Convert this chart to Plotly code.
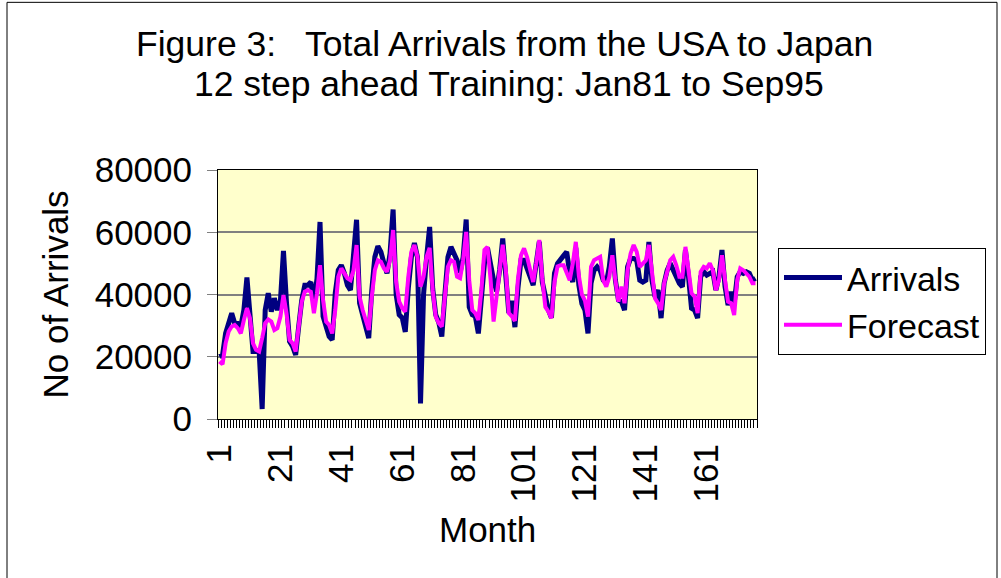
import plotly.graph_objects as go

months = list(range(1, 178))

arrivals = [
    20000, 20600, 27500, 31300, 34000, 30700, 30700, 29700, 35000, 45500,
    32900, 21700, 21700, 22000, 3200, 35000, 40400, 34500, 38800, 35000,
    38000, 54000, 37200, 24900, 23300, 20600, 29700, 38200, 43000, 43000,
    44000, 37500, 45000, 63300, 33000, 29200, 26500, 25400, 40400, 47800,
    49400, 46800, 43000, 41400, 53200, 64000, 37200, 32900, 29700, 26000,
    41400, 52100, 55500, 53700, 50000, 46800, 53200, 67300, 40000, 33500,
    32500, 28000, 42000, 52000, 56500, 52000, 5000, 40000, 52000, 61700,
    42000, 33500, 31000, 26500, 40000, 52000, 55300, 53000, 51000, 47000,
    52000, 64100, 36000, 33500, 33000, 27500, 40000, 50000, 55000, 49000,
    44600, 41000, 48000, 58000, 47000, 34000, 38000, 29500, 42000, 51000,
    51000, 48000, 46000, 43000, 50000, 57000, 44000, 39500, 35000, 32500,
    46800, 50000, 51600, 52500, 53700, 47000, 44000, 55000, 43000, 37000,
    35000, 27500, 43600, 47800, 48900, 47800, 44600, 43600, 48900, 58000,
    44600, 38200, 37700, 35000, 48900, 51600, 51600, 51000, 44600, 44000,
    44600, 56900, 44600, 39300, 41400, 32400, 43600, 47800, 50000, 47800,
    46200, 43600, 42500, 54300, 45700, 35600, 35000, 32400, 45700, 47300,
    46200, 46800, 47300, 41400, 45700, 54300, 42500, 36600, 40900, 37000,
    45700, 47300, 46800, 47300, 46800, 44600, 45200,
]

forecast = [
    18500, 17600, 24300, 28100, 29700, 30200, 29200, 27500, 31800, 35600,
    32400, 24300, 22200, 21700, 26000, 30800, 32000, 31300, 28600, 29200,
    32900, 39800, 34000, 25400, 24300, 21700, 29700, 37700, 40900, 41400,
    40900, 34000, 40400, 49400, 38200, 31300, 30200, 27500, 35000, 45700,
    48400, 46800, 45200, 44600, 47800, 55900, 39300, 35000, 31800, 28600,
    39300, 47800, 51000, 50500, 48400, 47300, 51000, 60700, 44000, 37700,
    35600, 34500, 45700, 53700, 55900, 52100, 42500, 45700, 52100, 55000,
    41400, 32900, 30800, 29700, 39300, 48900, 51000, 50500, 45700, 45200,
    51000, 60100, 44600, 35000, 34000, 31800, 41400, 54300, 55300, 45000,
    31300, 40000, 50000, 56000, 48000, 34000, 33000, 31500, 45000, 52600,
    54800, 52000, 48000, 44000, 50000, 57500, 45000, 36000, 34500, 32400,
    44000, 49000, 49400, 49400, 47000, 44600, 50000, 56900, 46000, 40000,
    38000, 32900, 48900, 51000, 51600, 52100, 44600, 42500, 45700, 52600,
    44600, 37700, 42500, 37200, 47800, 53200, 55900, 53700, 48900, 50000,
    51000, 55900, 46800, 38800, 37200, 35000, 43600, 47800, 51000, 52100,
    49400, 45700, 45700, 55300, 47800, 40400, 39300, 34000, 47300, 48900,
    48400, 50000, 47800, 41400, 44600, 52600, 44600, 37700, 37200, 33400,
    44600, 48400, 47800, 46800, 45700, 43600, 43600,
]

x_tick_vals = [1, 21, 41, 61, 81, 101, 121, 141, 161]
y_tick_vals = [0, 20000, 40000, 60000, 80000]

title_line1 = "Figure 3:   Total Arrivals from the USA to Japan"
title_line2 = "12 step ahead Training: Jan81 to Sep95"

FONT = "Liberation Sans, Arial, sans-serif"
FS = 35

W, H = 1001, 578
L, R, T, B = 218, 757, 170, 419.5


def px(xs):
    return (xs - L) / (R - L)


def py(ys):
    return (B - ys) / (B - T)


fig = go.Figure()
fig.add_trace(go.Scatter(x=months, y=arrivals, mode="lines", name="Arrivals",
                         line=dict(color="#000080", width=5)))
fig.add_trace(go.Scatter(x=months, y=forecast, mode="lines", name="Forecast",
                         line=dict(color="#FF00FF", width=4)))

fig.update_layout(
    width=W, height=H,
    margin=dict(l=L, r=W - R, t=T, b=H - B, pad=0),
    paper_bgcolor="white",
    plot_bgcolor="#FFFFCC",
    font=dict(family=FONT, size=FS, color="black"),
    showlegend=True,
    legend=dict(x=px(778), y=py(248), xanchor="left", yanchor="top",
                bgcolor="white", bordercolor="black", borderwidth=1,
                font=dict(size=34), itemwidth=58, tracegroupgap=0),
    xaxis=dict(
        range=[0.5, len(months) + 0.5],
        tickmode="array", tickvals=x_tick_vals, ticktext=[str(v) for v in x_tick_vals],
        tickangle=-90, ticks="", showgrid=False, zeroline=False,
        showline=True, linecolor="black", linewidth=1, mirror=True,
        ticklabelstandoff=10,
        minor=dict(ticks="outside", ticklen=8, tickcolor="black", tickwidth=1,
                   tickmode="linear", tick0=0.5, dtick=1, showgrid=False),
        tickfont=dict(size=FS),
    ),
    yaxis=dict(
        range=[0, 80000], tickmode="array", tickvals=y_tick_vals,
        ticktext=[str(v) for v in y_tick_vals],
        ticks="outside", ticklen=10, tickcolor="#808080", tickwidth=1,
        showgrid=True, gridcolor="#808080", gridwidth=1.5, zeroline=False,
        showline=True, linecolor="black", linewidth=1, mirror=True,
        ticklabelstandoff=8,
        tickfont=dict(size=FS),
    ),
    annotations=[
        dict(text=title_line1, xref="paper", yref="paper",
             x=px(504), y=py(44), xanchor="center", yanchor="middle",
             showarrow=False, font=dict(size=35.5)),
        dict(text=title_line2, xref="paper", yref="paper",
             x=px(509), y=py(84), xanchor="center", yanchor="middle",
             showarrow=False, font=dict(size=35.5)),
        dict(text="No of Arrivals", xref="paper", yref="paper",
             x=px(55), y=0.5, xanchor="center", yanchor="middle",
             textangle=-90, showarrow=False, font=dict(size=FS)),
        dict(text="Month", xref="paper", yref="paper",
             x=px(487), y=py(530), xanchor="center", yanchor="middle",
             showarrow=False, font=dict(size=FS)),
    ],
    shapes=[
        dict(type="rect", xref="paper", yref="paper",
             x0=px(7), x1=px(997), y0=py(620), y1=py(2),
             line=dict(color="black", width=1), fillcolor="rgba(0,0,0,0)", layer="above"),
    ],
)

fig.write_html("out.html", config={"displayModeBar": False},
               post_script="document.body.style.margin='0px';")
